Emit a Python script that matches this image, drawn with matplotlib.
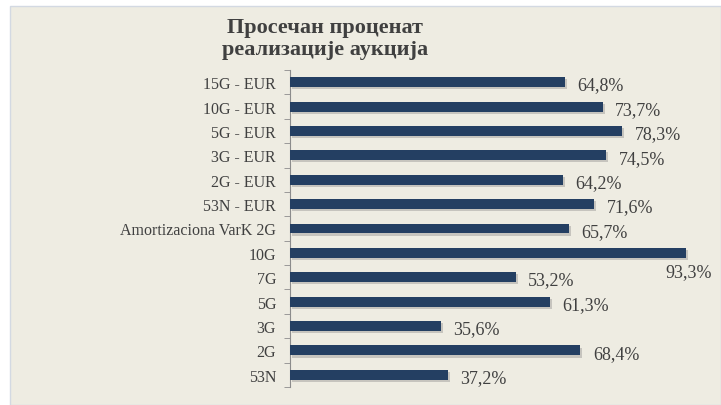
import matplotlib.pyplot as plt
import matplotlib.patheffects as pe
from matplotlib.patches import Rectangle

categories = ["15G - EUR", "10G - EUR", "5G - EUR", "3G - EUR", "2G - EUR",
              "53N - EUR", "Amortizaciona VarK 2G", "10G", "7G", "5G", "3G",
              "2G", "53N"]
values = [0.648, 0.737, 0.783, 0.745, 0.642, 0.716, 0.657, 0.933, 0.532,
          0.613, 0.356, 0.684, 0.372]
labels = ["64,8%", "73,7%", "78,3%", "74,5%", "64,2%", "71,6%", "65,7%",
          "93,3%", "53,2%", "61,3%", "35,6%", "68,4%", "37,2%"]

title = "Просечан проценат\nреализације аукција"

BG = "#eeece2"
BAR = "#243f62"
TEXT = "#404040"

plt.rcParams["font.family"] = ["Liberation Serif", "DejaVu Serif"]

fig = plt.figure(figsize=(7.21, 4.06), dpi=100)
fig.patch.set_facecolor("white")
fig.patches.append(Rectangle((10 / 721, 0), 1 - 10 / 721, 1 - 7 / 406,
                             transform=fig.transFigure, facecolor=BG,
                             edgecolor="#d3d9e2", linewidth=1, zorder=-1))

ax = fig.add_axes([290 / 721, 18 / 406, 424.5 / 721, 317 / 406])
ax.set_facecolor("none")

y = list(range(len(categories)))[::-1]
bars = ax.barh(y, values, height=0.41, color=BAR, zorder=3)
for b in bars:
    b.set_path_effects([pe.SimplePatchShadow(offset=(1.5, -1.5), shadow_rgbFace="#8a8a8a", alpha=0.4),
                        pe.Normal()])

for yi, v, lab in zip(y, values, labels):
    if v > 0.9:
        # no room on the right, put it under the bar end
        ax.annotate(lab, (v, yi), xytext=(2, -7), textcoords="offset points",
                    ha="center", va="top", fontsize=13, color=TEXT)
    else:
        ax.annotate(lab, (v, yi), xytext=(9, -2), textcoords="offset points",
                    ha="left", va="center", fontsize=13, color=TEXT)

ax.set_xlim(0, 1)
ax.set_ylim(-0.5, len(categories) - 0.5)
ax.set_yticks(y)
ax.set_yticklabels(categories, fontsize=11.5, color=TEXT)
ax.set_yticks([i - 0.5 for i in range(len(categories) + 1)], minor=True)
ax.tick_params(axis="y", which="major", length=0, pad=10)
ax.tick_params(axis="y", which="minor", length=4, color="#8c8c8c")
ax.set_xticks([])
for s in ["top", "right", "bottom"]:
    ax.spines[s].set_visible(False)
ax.spines["left"].set_color("#8c8c8c")

fig.text(325 / 721, 1 - 39 / 406, title, ha="center", va="center",
         fontsize=16, fontweight="bold", color=TEXT, linespacing=1.2)

fig.savefig("out.png", dpi=100, facecolor=fig.get_facecolor())
